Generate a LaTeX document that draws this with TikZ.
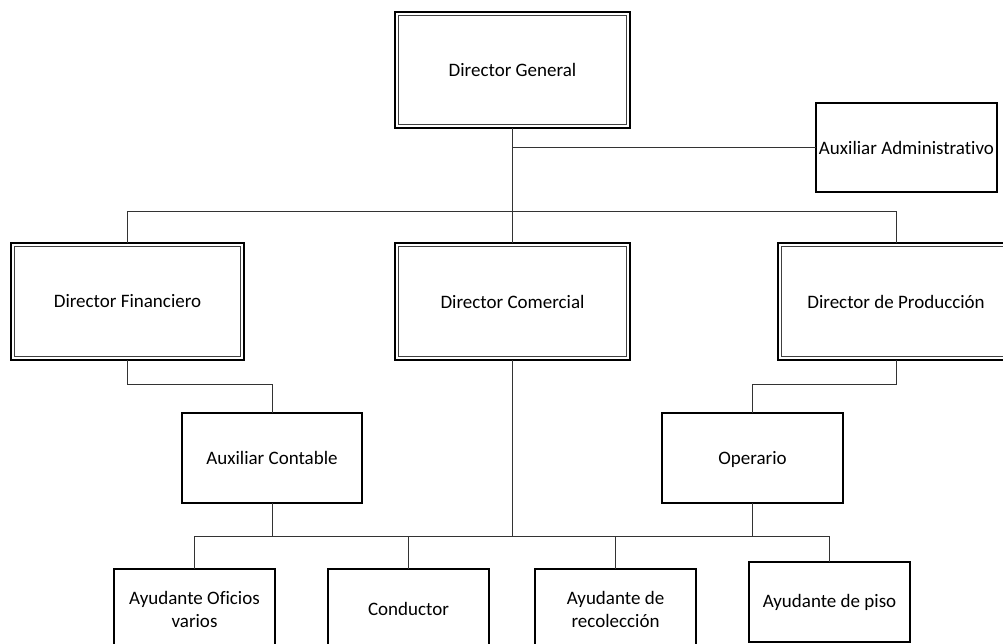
\documentclass[tikz,border=0pt]{standalone}
\usepackage{fontspec}
\setmainfont{Carlito}[Ligatures={NoCommon}]
\begin{document}
\begin{tikzpicture}[x=1pt,y=-1pt,
  box/.style={draw=black, line width=1.6pt, fill=white, inner sep=0pt, outer sep=0pt,
    align=center, font=\fontsize{19}{23}\selectfont},
  dbox/.style={box, minimum width=235pt, minimum height=117pt},
  inner/.style={draw=black!75, line width=0.9pt},
  lbl/.style={font=\fontsize{19}{23}\selectfont, align=center, inner sep=0pt},
  conn/.style={draw=black!80, line width=1pt}]
\useasboundingbox (0,0) rectangle (1003,643);
\clip (0,0) rectangle (1003,643);
\fill[white] (0,0) rectangle (1003,643);
% bus coordinates
\coordinate (b1) at (0,211);
\coordinate (b2) at (0,384);
\coordinate (b3) at (0,536);
% nodes
\node[dbox, minimum height=116pt] (DG) at (512.5,70) {Director General};
\node[box, minimum width=181pt, minimum height=89pt] (AA) at (906.5,147.5) {Auxiliar Administrativo};
\node[dbox, minimum width=233pt] (DF) at (127.5,301.5) {Director Financiero};
\node[dbox] (DC) at (512.5,301.5) {Director Comercial};
\node[dbox, minimum width=236pt] (DP) at (896,301.5) {Director de Producción};
\node[box, minimum width=180pt, minimum height=90pt] (AC) at (272,458) {Auxiliar Contable};
\node[box, minimum width=181pt, minimum height=90pt] (OP) at (752.5,458) {};
\node[lbl] (OPt) at (752.5,459) {Operario};
\node[box, minimum width=161pt, minimum height=91pt] (AOV) at (194.5,614.5) {};
\node[lbl] (AOVt) at (194.5,609) {Ayudante Oficios\\varios};
\node[box, minimum width=161pt, minimum height=91pt] (CO) at (408.5,614.5) {};
\node[lbl] (COt) at (408.5,609) {Conductor};
\node[box, minimum width=161pt, minimum height=91pt] (AR) at (615.5,614.5) {};
\node[lbl] (ARt) at (615.5,609) {Ayudante de\\recolección};
\node[box, minimum width=161pt, minimum height=80pt] (AP) at (829.5,602) {Ayudante de piso};
% inner lines of double boxes
\foreach \n in {DG,DF,DC,DP}{
  \draw[inner] ([shift={(3.5,3.5)}]\n.north west) rectangle ([shift={(-3.5,-3.5)}]\n.south east);
}
% connectors
\draw[conn] (DG.south) -- (DC.north);
\draw[conn] (DG.south |- AA.west) -- (AA.west);
\draw[conn] (DF.north) -- (DF.north |- b1) -| (DP.north);
\draw[conn] (DF.south) -- (DF.south |- b2) -| (AC.north);
\draw[conn] (DP.south) -- (DP.south |- b2) -| (OP.north);
\draw[conn] (AC.south) -- (AC.south |- b3);
\draw[conn] (OP.south) -- (OP.south |- b3);
\draw[conn] (DC.south) -- (DC.south |- b3);
\draw[conn] (AOV.north) -- (AOV.north |- b3) -| (AP.north);
\draw[conn] (CO.north) -- (CO.north |- b3);
\draw[conn] (AR.north) -- (AR.north |- b3);
\end{tikzpicture}
\end{document}
